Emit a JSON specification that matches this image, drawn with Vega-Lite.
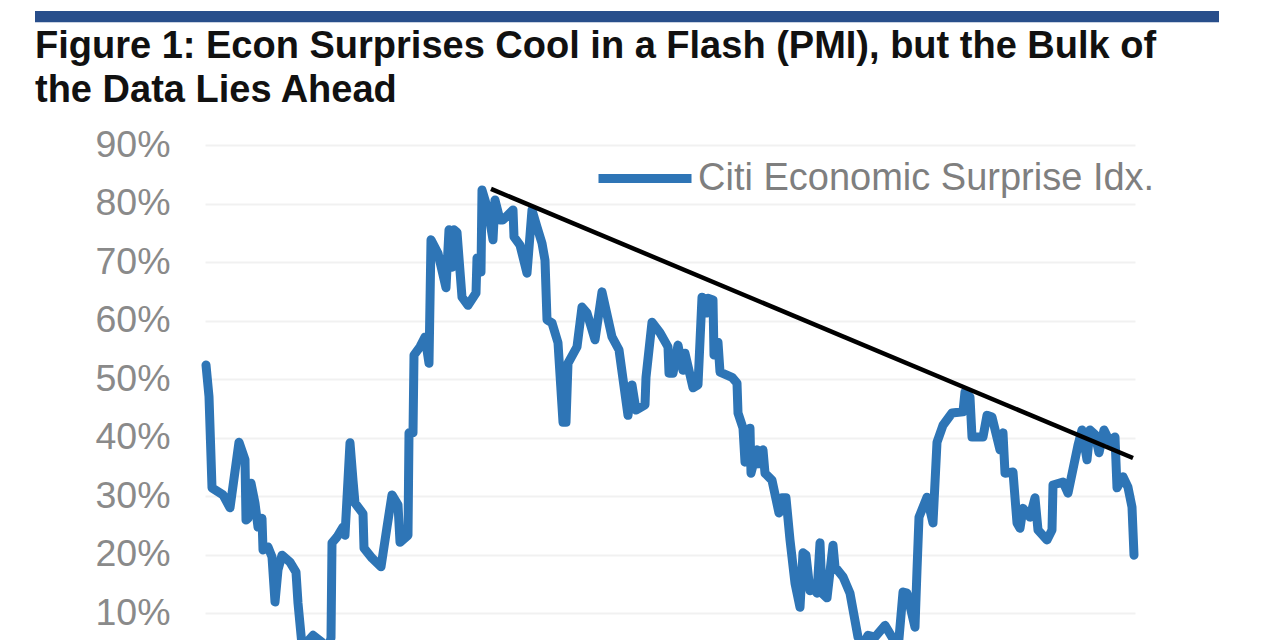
{"$schema":"https://vega.github.io/schema/vega-lite/v6.json","width":930,"height":495,"autosize":{"type":"none"},"padding":{"left":205,"top":145,"right":145,"bottom":0},"background":"white",
"title":{"text":["Figure 1: Econ Surprises Cool in a Flash (PMI), but the Bulk of","the Data Lies Ahead"],"anchor":"start","frame":"group","dx":-170,"dy":129,"baseline":"alphabetic","font":"Liberation Sans","fontSize":38,"fontWeight":"bold","color":"#111111","lineHeight":44,"offset":0,"limit":1200},
"config":{"view":{"stroke":null}},
"layer":[
{"data":{"values":[{"band":"top rule"}]},"mark":{"type":"rect","color":"#284E8B","clip":false},"encoding":{"x":{"datum":-170,"type":"quantitative","scale":{"domain":[0,930],"nice":false,"zero":false},"axis":null},"x2":{"datum":1014},"y":{"datum":111,"type":"quantitative","scale":{"domain":[5.4,90],"nice":false,"zero":false}},"y2":{"datum":112.9}}},
{"data":{"name":"surprise","values":[
{"t":1,"v":52.4,"s":"Citi Economic Surprise Idx."},{"t":4,"v":47,"s":"Citi Economic Surprise Idx."},{"t":6,"v":36.7,"s":"Citi Economic Surprise Idx."},{"t":7,"v":31.4,"s":"Citi Economic Surprise Idx."},{"t":18,"v":30.2,"s":"Citi Economic Surprise Idx."},{"t":25,"v":28,"s":"Citi Economic Surprise Idx."},{"t":34,"v":39.2,"s":"Citi Economic Surprise Idx."},{"t":40,"v":36.2,"s":"Citi Economic Surprise Idx."},{"t":41,"v":25.9,"s":"Citi Economic Surprise Idx."},{"t":43,"v":26.2,"s":"Citi Economic Surprise Idx."},{"t":46,"v":32.2,"s":"Citi Economic Surprise Idx."},{"t":50,"v":28.8,"s":"Citi Economic Surprise Idx."},{"t":53,"v":24.7,"s":"Citi Economic Surprise Idx."},{"t":57,"v":26.2,"s":"Citi Economic Surprise Idx."},{"t":58,"v":20.8,"s":"Citi Economic Surprise Idx."},{"t":63,"v":21.3,"s":"Citi Economic Surprise Idx."},{"t":67,"v":19.6,"s":"Citi Economic Surprise Idx."},{"t":70,"v":11.9,"s":"Citi Economic Surprise Idx."},{"t":73,"v":17.4,"s":"Citi Economic Surprise Idx."},{"t":77,"v":19.9,"s":"Citi Economic Surprise Idx."},{"t":85,"v":18.7,"s":"Citi Economic Surprise Idx."},{"t":91,"v":17,"s":"Citi Economic Surprise Idx."},{"t":93,"v":11.7,"s":"Citi Economic Surprise Idx."},{"t":97,"v":4.5,"s":"Citi Economic Surprise Idx."},{"t":100,"v":3.7,"s":"Citi Economic Surprise Idx."},{"t":104,"v":5.4,"s":"Citi Economic Surprise Idx."},{"t":108,"v":6.2,"s":"Citi Economic Surprise Idx."},{"t":117,"v":5,"s":"Citi Economic Surprise Idx."},{"t":121,"v":2,"s":"Citi Economic Surprise Idx."},{"t":126,"v":5.8,"s":"Citi Economic Surprise Idx."},{"t":127,"v":22,"s":"Citi Economic Surprise Idx."},{"t":132,"v":23,"s":"Citi Economic Surprise Idx."},{"t":138,"v":24.7,"s":"Citi Economic Surprise Idx."},{"t":140,"v":23.3,"s":"Citi Economic Surprise Idx."},{"t":145,"v":39.1,"s":"Citi Economic Surprise Idx."},{"t":148,"v":32.7,"s":"Citi Economic Surprise Idx."},{"t":150,"v":28.8,"s":"Citi Economic Surprise Idx."},{"t":158,"v":27,"s":"Citi Economic Surprise Idx."},{"t":159,"v":21.1,"s":"Citi Economic Surprise Idx."},{"t":167,"v":19.4,"s":"Citi Economic Surprise Idx."},{"t":176,"v":17.9,"s":"Citi Economic Surprise Idx."},{"t":182,"v":24.7,"s":"Citi Economic Surprise Idx."},{"t":187,"v":30.2,"s":"Citi Economic Surprise Idx."},{"t":193,"v":28.5,"s":"Citi Economic Surprise Idx."},{"t":195,"v":22.1,"s":"Citi Economic Surprise Idx."},{"t":203,"v":23.3,"s":"Citi Economic Surprise Idx."},{"t":204,"v":40.8,"s":"Citi Economic Surprise Idx."},{"t":208,"v":40.8,"s":"Citi Economic Surprise Idx."},{"t":209,"v":54.1,"s":"Citi Economic Surprise Idx."},{"t":215,"v":55.5,"s":"Citi Economic Surprise Idx."},{"t":220,"v":57.2,"s":"Citi Economic Surprise Idx."},{"t":224,"v":52.7,"s":"Citi Economic Surprise Idx."},{"t":226,"v":73.8,"s":"Citi Economic Surprise Idx."},{"t":233,"v":71.5,"s":"Citi Economic Surprise Idx."},{"t":241,"v":65.6,"s":"Citi Economic Surprise Idx."},{"t":244,"v":75.5,"s":"Citi Economic Surprise Idx."},{"t":247,"v":69.1,"s":"Citi Economic Surprise Idx."},{"t":249,"v":75.5,"s":"Citi Economic Surprise Idx."},{"t":252,"v":75.1,"s":"Citi Economic Surprise Idx."},{"t":257,"v":64,"s":"Citi Economic Surprise Idx."},{"t":263,"v":62.6,"s":"Citi Economic Surprise Idx."},{"t":271,"v":64.7,"s":"Citi Economic Surprise Idx."},{"t":272,"v":70.7,"s":"Citi Economic Surprise Idx."},{"t":276,"v":68.3,"s":"Citi Economic Surprise Idx."},{"t":277,"v":82.3,"s":"Citi Economic Surprise Idx."},{"t":283,"v":78.9,"s":"Citi Economic Surprise Idx."},{"t":288,"v":73.8,"s":"Citi Economic Surprise Idx."},{"t":290,"v":80.6,"s":"Citi Economic Surprise Idx."},{"t":295,"v":77.2,"s":"Citi Economic Surprise Idx."},{"t":298,"v":77.2,"s":"Citi Economic Surprise Idx."},{"t":308,"v":78.9,"s":"Citi Economic Surprise Idx."},{"t":309,"v":74.3,"s":"Citi Economic Surprise Idx."},{"t":315,"v":72.9,"s":"Citi Economic Surprise Idx."},{"t":322,"v":68.1,"s":"Citi Economic Surprise Idx."},{"t":327,"v":78.9,"s":"Citi Economic Surprise Idx."},{"t":332,"v":76,"s":"Citi Economic Surprise Idx."},{"t":337,"v":73.2,"s":"Citi Economic Surprise Idx."},{"t":340,"v":70.3,"s":"Citi Economic Surprise Idx."},{"t":342,"v":60.1,"s":"Citi Economic Surprise Idx."},{"t":347,"v":59.6,"s":"Citi Economic Surprise Idx."},{"t":353,"v":56.2,"s":"Citi Economic Surprise Idx."},{"t":358,"v":42.6,"s":"Citi Economic Surprise Idx."},{"t":361,"v":42.6,"s":"Citi Economic Surprise Idx."},{"t":363,"v":52.7,"s":"Citi Economic Surprise Idx."},{"t":372,"v":55.5,"s":"Citi Economic Surprise Idx."},{"t":377,"v":62.3,"s":"Citi Economic Surprise Idx."},{"t":382,"v":61.3,"s":"Citi Economic Surprise Idx."},{"t":390,"v":56.7,"s":"Citi Economic Surprise Idx."},{"t":397,"v":64.9,"s":"Citi Economic Surprise Idx."},{"t":401,"v":61.8,"s":"Citi Economic Surprise Idx."},{"t":407,"v":57.2,"s":"Citi Economic Surprise Idx."},{"t":414,"v":55,"s":"Citi Economic Surprise Idx."},{"t":423,"v":43.8,"s":"Citi Economic Surprise Idx."},{"t":427,"v":49,"s":"Citi Economic Surprise Idx."},{"t":431,"v":44.7,"s":"Citi Economic Surprise Idx."},{"t":440,"v":45.6,"s":"Citi Economic Surprise Idx."},{"t":441,"v":50.3,"s":"Citi Economic Surprise Idx."},{"t":447,"v":59.7,"s":"Citi Economic Surprise Idx."},{"t":455,"v":57.9,"s":"Citi Economic Surprise Idx."},{"t":463,"v":55.5,"s":"Citi Economic Surprise Idx."},{"t":464,"v":51,"s":"Citi Economic Surprise Idx."},{"t":468,"v":51,"s":"Citi Economic Surprise Idx."},{"t":473,"v":55.8,"s":"Citi Economic Surprise Idx."},{"t":478,"v":51.5,"s":"Citi Economic Surprise Idx."},{"t":480,"v":54.4,"s":"Citi Economic Surprise Idx."},{"t":488,"v":48.5,"s":"Citi Economic Surprise Idx."},{"t":493,"v":49,"s":"Citi Economic Surprise Idx."},{"t":497,"v":64,"s":"Citi Economic Surprise Idx."},{"t":502,"v":61.3,"s":"Citi Economic Surprise Idx."},{"t":503,"v":63.8,"s":"Citi Economic Surprise Idx."},{"t":508,"v":63.5,"s":"Citi Economic Surprise Idx."},{"t":509,"v":54.1,"s":"Citi Economic Surprise Idx."},{"t":513,"v":56.3,"s":"Citi Economic Surprise Idx."},{"t":515,"v":51.2,"s":"Citi Economic Surprise Idx."},{"t":527,"v":50.3,"s":"Citi Economic Surprise Idx."},{"t":532,"v":49.3,"s":"Citi Economic Surprise Idx."},{"t":533,"v":44.2,"s":"Citi Economic Surprise Idx."},{"t":538,"v":41.6,"s":"Citi Economic Surprise Idx."},{"t":540,"v":35.8,"s":"Citi Economic Surprise Idx."},{"t":545,"v":41.6,"s":"Citi Economic Surprise Idx."},{"t":546,"v":33.9,"s":"Citi Economic Surprise Idx."},{"t":552,"v":37.9,"s":"Citi Economic Surprise Idx."},{"t":553,"v":35.5,"s":"Citi Economic Surprise Idx."},{"t":558,"v":37.9,"s":"Citi Economic Surprise Idx."},{"t":560,"v":33.9,"s":"Citi Economic Surprise Idx."},{"t":567,"v":32.7,"s":"Citi Economic Surprise Idx."},{"t":574,"v":27.1,"s":"Citi Economic Surprise Idx."},{"t":577,"v":29.7,"s":"Citi Economic Surprise Idx."},{"t":581,"v":29.7,"s":"Citi Economic Surprise Idx."},{"t":585,"v":22.5,"s":"Citi Economic Surprise Idx."},{"t":590,"v":15.1,"s":"Citi Economic Surprise Idx."},{"t":595,"v":11,"s":"Citi Economic Surprise Idx."},{"t":598,"v":20.3,"s":"Citi Economic Surprise Idx."},{"t":601,"v":19.9,"s":"Citi Economic Surprise Idx."},{"t":605,"v":13.8,"s":"Citi Economic Surprise Idx."},{"t":608,"v":14.5,"s":"Citi Economic Surprise Idx."},{"t":612,"v":13.4,"s":"Citi Economic Surprise Idx."},{"t":615,"v":22,"s":"Citi Economic Surprise Idx."},{"t":617,"v":13.4,"s":"Citi Economic Surprise Idx."},{"t":622,"v":12.6,"s":"Citi Economic Surprise Idx."},{"t":628,"v":21.6,"s":"Citi Economic Surprise Idx."},{"t":630,"v":17.9,"s":"Citi Economic Surprise Idx."},{"t":638,"v":16.2,"s":"Citi Economic Surprise Idx."},{"t":645,"v":13.4,"s":"Citi Economic Surprise Idx."},{"t":653,"v":5.9,"s":"Citi Economic Surprise Idx."},{"t":658,"v":4.5,"s":"Citi Economic Surprise Idx."},{"t":663,"v":6.2,"s":"Citi Economic Surprise Idx."},{"t":670,"v":5.9,"s":"Citi Economic Surprise Idx."},{"t":680,"v":7.9,"s":"Citi Economic Surprise Idx."},{"t":687,"v":5.9,"s":"Citi Economic Surprise Idx."},{"t":693,"v":3.7,"s":"Citi Economic Surprise Idx."},{"t":698,"v":13.6,"s":"Citi Economic Surprise Idx."},{"t":702,"v":13.4,"s":"Citi Economic Surprise Idx."},{"t":710,"v":7.6,"s":"Citi Economic Surprise Idx."},{"t":712,"v":17.4,"s":"Citi Economic Surprise Idx."},{"t":714,"v":26.4,"s":"Citi Economic Surprise Idx."},{"t":722,"v":29.8,"s":"Citi Economic Surprise Idx."},{"t":728,"v":25.4,"s":"Citi Economic Surprise Idx."},{"t":732,"v":39.2,"s":"Citi Economic Surprise Idx."},{"t":738,"v":42.1,"s":"Citi Economic Surprise Idx."},{"t":747,"v":44.2,"s":"Citi Economic Surprise Idx."},{"t":758,"v":44.4,"s":"Citi Economic Surprise Idx."},{"t":760,"v":47.8,"s":"Citi Economic Surprise Idx."},{"t":765,"v":46.9,"s":"Citi Economic Surprise Idx."},{"t":767,"v":40.1,"s":"Citi Economic Surprise Idx."},{"t":778,"v":40.1,"s":"Citi Economic Surprise Idx."},{"t":782,"v":43.8,"s":"Citi Economic Surprise Idx."},{"t":787,"v":43.5,"s":"Citi Economic Surprise Idx."},{"t":795,"v":37.9,"s":"Citi Economic Surprise Idx."},{"t":798,"v":40.8,"s":"Citi Economic Surprise Idx."},{"t":800,"v":33.9,"s":"Citi Economic Surprise Idx."},{"t":808,"v":34.1,"s":"Citi Economic Surprise Idx."},{"t":812,"v":25.4,"s":"Citi Economic Surprise Idx."},{"t":815,"v":24.5,"s":"Citi Economic Surprise Idx."},{"t":818,"v":27.9,"s":"Citi Economic Surprise Idx."},{"t":825,"v":26.4,"s":"Citi Economic Surprise Idx."},{"t":830,"v":29.7,"s":"Citi Economic Surprise Idx."},{"t":833,"v":24.2,"s":"Citi Economic Surprise Idx."},{"t":842,"v":22.5,"s":"Citi Economic Surprise Idx."},{"t":847,"v":24.2,"s":"Citi Economic Surprise Idx."},{"t":848,"v":31.9,"s":"Citi Economic Surprise Idx."},{"t":858,"v":32.4,"s":"Citi Economic Surprise Idx."},{"t":863,"v":30.5,"s":"Citi Economic Surprise Idx."},{"t":873,"v":38.7,"s":"Citi Economic Surprise Idx."},{"t":877,"v":41.3,"s":"Citi Economic Surprise Idx."},{"t":882,"v":36.2,"s":"Citi Economic Surprise Idx."},{"t":885,"v":41.3,"s":"Citi Economic Surprise Idx."},{"t":890,"v":40.5,"s":"Citi Economic Surprise Idx."},{"t":894,"v":37.4,"s":"Citi Economic Surprise Idx."},{"t":899,"v":41.3,"s":"Citi Economic Surprise Idx."},{"t":905,"v":39.2,"s":"Citi Economic Surprise Idx."},{"t":910,"v":40.1,"s":"Citi Economic Surprise Idx."},{"t":912,"v":31.4,"s":"Citi Economic Surprise Idx."},{"t":918,"v":33.3,"s":"Citi Economic Surprise Idx."},{"t":923,"v":31.5,"s":"Citi Economic Surprise Idx."},{"t":927,"v":28.1,"s":"Citi Economic Surprise Idx."},{"t":929,"v":19.9,"s":"Citi Economic Surprise Idx."}
]},"mark":{"type":"line","strokeWidth":9,"strokeCap":"round","strokeJoin":"round","clip":false},"encoding":{"x":{"field":"t","type":"quantitative","scale":{"domain":[0,930],"nice":false,"zero":false},"axis":null},"y":{"field":"v","type":"quantitative","scale":{"domain":[5.4,90],"nice":false,"zero":false},"axis":{"values":[10,20,30,40,50,60,70,80,90],"labelExpr":"datum.value + '%'","title":null,"domain":false,"ticks":false,"labelPadding":35,"labelFont":"Liberation Sans","labelFontSize":37.5,"labelColor":"#8A8A8A","grid":true,"gridColor":"#F1F1F1","gridWidth":2}},"color":{"field":"s","type":"nominal","scale":{"range":["#2E75B6"]},"legend":{"title":null,"orient":"none","legendX":389,"legendY":-17.5,"symbolType":"stroke","symbolSize":8649,"symbolStrokeWidth":9,"labelFont":"Liberation Sans","labelFontSize":38,"labelColor":"#7F7F7F","labelOffset":2,"labelLimit":600,"padding":0}}}},
{"data":{"values":[{"t":286,"v":82.5},{"t":928,"v":36.5}]},"mark":{"type":"line","color":"#000000","strokeWidth":4.5,"clip":false},"encoding":{"x":{"field":"t","type":"quantitative","scale":{"domain":[0,930],"nice":false,"zero":false}},"y":{"field":"v","type":"quantitative","scale":{"domain":[5.4,90],"nice":false,"zero":false}}}}
]}
